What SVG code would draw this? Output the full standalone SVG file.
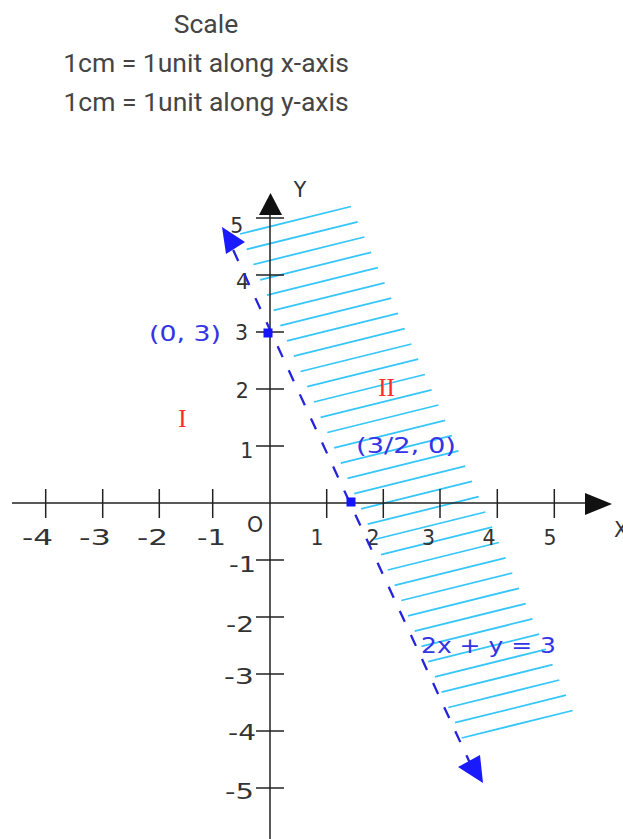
<svg xmlns="http://www.w3.org/2000/svg" width="623" height="839" viewBox="0 0 623 839">
<defs>
<style>
.title{font-family:Roboto,"Liberation Sans",sans-serif;font-size:26.5px;fill:#454545;text-anchor:middle}
.ax{stroke:#222;stroke-width:1.5;fill:none}
.tk{stroke:#222;stroke-width:1.5}
.num{font-family:"DejaVu Sans",sans-serif;font-size:20.5px;fill:#333}
.mid{text-anchor:middle}
.blue{font-family:"DejaVu Sans",sans-serif;font-size:22px;fill:#3434e6}
.red{font-family:"Liberation Serif",serif;font-size:25px;fill:#ff2a2a;text-anchor:middle}
.hatch{stroke:#36c6fa;stroke-width:1.8}
.line{stroke:#2424dc;stroke-width:2.3;stroke-dasharray:12 14.5;fill:none}
.head{fill:#1a1aff}
.mk{fill:#1414ff}
</style>
</defs>
<rect width="623" height="839" fill="#fff"/>
<g id="title">
<text class="title" x="206" y="33">Scale</text>
<text class="title" x="206" y="72">1cm = 1unit along x-axis</text>
<text class="title" x="206" y="111">1cm = 1unit along y-axis</text>
</g>
<g id="hatch">
<line class="hatch" x1="240.0" y1="234.0" x2="351.0" y2="206.5"/>
<line class="hatch" x1="246.7" y1="249.3" x2="357.7" y2="221.8"/>
<line class="hatch" x1="253.4" y1="264.5" x2="364.4" y2="237.0"/>
<line class="hatch" x1="260.2" y1="279.8" x2="371.2" y2="252.3"/>
<line class="hatch" x1="266.9" y1="295.1" x2="377.9" y2="267.6"/>
<line class="hatch" x1="273.6" y1="310.4" x2="384.6" y2="282.9"/>
<line class="hatch" x1="280.3" y1="325.6" x2="391.3" y2="298.1"/>
<line class="hatch" x1="287.0" y1="340.9" x2="398.0" y2="313.4"/>
<line class="hatch" x1="293.8" y1="356.2" x2="404.8" y2="328.7"/>
<line class="hatch" x1="300.5" y1="371.5" x2="411.5" y2="344.0"/>
<line class="hatch" x1="307.2" y1="386.7" x2="418.2" y2="359.2"/>
<line class="hatch" x1="313.9" y1="402.0" x2="424.9" y2="374.5"/>
<line class="hatch" x1="320.6" y1="417.3" x2="431.6" y2="389.8"/>
<line class="hatch" x1="327.4" y1="432.5" x2="438.4" y2="405.0"/>
<line class="hatch" x1="334.1" y1="447.8" x2="445.1" y2="420.3"/>
<line class="hatch" x1="340.8" y1="463.1" x2="451.8" y2="435.6"/>
<line class="hatch" x1="347.5" y1="478.4" x2="458.5" y2="450.9"/>
<line class="hatch" x1="354.2" y1="493.6" x2="465.2" y2="466.1"/>
<line class="hatch" x1="361.0" y1="508.9" x2="472.0" y2="481.4"/>
<line class="hatch" x1="367.7" y1="524.2" x2="478.7" y2="496.7"/>
<line class="hatch" x1="374.4" y1="539.5" x2="485.4" y2="512.0"/>
<line class="hatch" x1="381.1" y1="554.7" x2="492.1" y2="527.2"/>
<line class="hatch" x1="387.8" y1="570.0" x2="498.8" y2="542.5"/>
<line class="hatch" x1="394.6" y1="585.3" x2="505.6" y2="557.8"/>
<line class="hatch" x1="401.3" y1="600.5" x2="512.3" y2="573.0"/>
<line class="hatch" x1="408.0" y1="615.8" x2="519.0" y2="588.3"/>
<line class="hatch" x1="414.7" y1="631.1" x2="525.7" y2="603.6"/>
<line class="hatch" x1="421.4" y1="646.4" x2="532.4" y2="618.9"/>
<line class="hatch" x1="428.2" y1="661.6" x2="539.2" y2="634.1"/>
<line class="hatch" x1="434.9" y1="676.9" x2="545.9" y2="649.4"/>
<line class="hatch" x1="441.6" y1="692.2" x2="552.6" y2="664.7"/>
<line class="hatch" x1="448.3" y1="707.5" x2="559.3" y2="680.0"/>
<line class="hatch" x1="455.0" y1="722.7" x2="566.0" y2="695.2"/>
<line class="hatch" x1="461.7" y1="738.0" x2="572.7" y2="710.5"/>
</g>
<g id="axes">
<line class="ax" x1="12" y1="503" x2="590" y2="503"/>
<line class="ax" x1="270" y1="210" x2="270" y2="839"/>
<polygon points="585,493 585,515 612,504" fill="#111"/>
<polygon points="259,215 282,215 270.5,193" fill="#111"/>
<g id="xticks">
<line class="tk" x1="45.7" y1="489" x2="45.7" y2="518"/>
<line class="tk" x1="102.7" y1="489" x2="102.7" y2="518"/>
<line class="tk" x1="159.3" y1="489" x2="159.3" y2="518"/>
<line class="tk" x1="212.7" y1="489" x2="212.7" y2="518"/>
<line class="tk" x1="326.7" y1="489" x2="326.7" y2="518"/>
<line class="tk" x1="383.3" y1="489" x2="383.3" y2="518"/>
<line class="tk" x1="440" y1="489" x2="440" y2="518"/>
<line class="tk" x1="497.3" y1="489" x2="497.3" y2="518"/>
<line class="tk" x1="554.3" y1="489" x2="554.3" y2="518"/>
</g>
<g id="yticks">
<line class="tk" x1="256" y1="218" x2="284" y2="218"/>
<line class="tk" x1="256" y1="275" x2="284" y2="275"/>
<line class="tk" x1="256" y1="332" x2="284" y2="332"/>
<line class="tk" x1="256" y1="389" x2="284" y2="389"/>
<line class="tk" x1="256" y1="446" x2="284" y2="446"/>
<line class="tk" x1="256" y1="560" x2="284" y2="560"/>
<line class="tk" x1="256" y1="617" x2="284" y2="617"/>
<line class="tk" x1="256" y1="674" x2="284" y2="674"/>
<line class="tk" x1="256" y1="731" x2="284" y2="731"/>
<line class="tk" x1="256" y1="788" x2="284" y2="788"/>
</g>
</g>
<g id="axis-labels">
<text class="num" x="614" y="537">X</text>
<text class="num mid" x="300" y="197">Y</text>
<text class="num" x="22" y="545" textLength="31" lengthAdjust="spacingAndGlyphs">-4</text>
<text class="num" x="79" y="545" textLength="32" lengthAdjust="spacingAndGlyphs">-3</text>
<text class="num" x="137" y="545" textLength="31" lengthAdjust="spacingAndGlyphs">-2</text>
<text class="num" x="197" y="545" textLength="29" lengthAdjust="spacingAndGlyphs">-1</text>
<text class="num mid" x="255" y="532">O</text>
<text class="num mid" x="317" y="545">1</text>
<text class="num mid" x="373" y="545">2</text>
<text class="num mid" x="428.5" y="545">3</text>
<text class="num mid" x="489" y="545">4</text>
<text class="num mid" x="550" y="545">5</text>
<text class="num mid" x="236.7" y="233">5</text>
<text class="num mid" x="242.5" y="289">4</text>
<text class="num mid" x="241.5" y="340">3</text>
<text class="num mid" x="242.3" y="398">2</text>
<text class="num mid" x="246.7" y="458">1</text>
<text class="num" x="229" y="572" textLength="27" lengthAdjust="spacingAndGlyphs">-1</text>
<text class="num" x="226" y="632" textLength="28" lengthAdjust="spacingAndGlyphs">-2</text>
<text class="num" x="224" y="684" textLength="30" lengthAdjust="spacingAndGlyphs">-3</text>
<text class="num" x="228" y="740" textLength="28" lengthAdjust="spacingAndGlyphs">-4</text>
<text class="num" x="225" y="799" textLength="29" lengthAdjust="spacingAndGlyphs">-5</text>
</g>
<g id="connectors">
<line id="line-2x-y-3" class="line" x1="233.2" y1="250" x2="473.2" y2="770"/>
<polygon class="head" points="222,227 245,242 226,254"/>
<polygon class="head" points="483,783 458,767 480,755"/>
</g>
<g id="point-0-3">
<rect class="mk" x="263.5" y="328.5" width="9" height="9"/>
<text class="blue" x="149" y="341" textLength="72" lengthAdjust="spacingAndGlyphs">(0, 3)</text>
</g>
<g id="point-3-2-0">
<rect class="mk" x="346.5" y="497.5" width="9" height="9"/>
<text class="blue" x="356" y="453" textLength="100" lengthAdjust="spacingAndGlyphs">(3/2, 0)</text>
</g>
<g id="equation-label">
<text class="blue" x="421" y="653" textLength="135" lengthAdjust="spacingAndGlyphs">2x + y = 3</text>
</g>
<g id="region-I"><text class="red" x="182.5" y="427">I</text></g>
<g id="region-II"><text class="red" x="386.5" y="396">II</text></g>
</svg>
